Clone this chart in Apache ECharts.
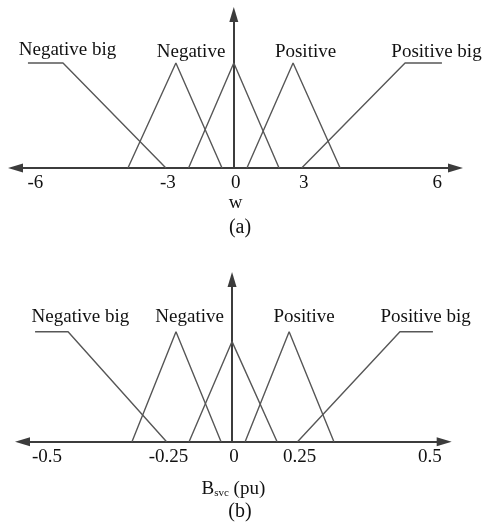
<!DOCTYPE html>
<html>
<head>
<meta charset="utf-8">
<script src="https://cdn.jsdelivr.net/npm/echarts@6/dist/echarts.min.js"></script>
<style>
  html, body { margin: 0; padding: 0; background: #fff; }
  #chart { width: 483px; height: 527px; }
</style>
</head>
<body>
<div id="chart"></div>
<script>
// Fuzzy membership functions: (a) input w, (b) output B_svc (pu)

// (a) input w: breakpoints [x, membership]
const wNegBig  = [[-9.1, 1], [-7.55, 1], [-3, 0]];
const wNeg     = [[-4.68, 0], [-2.56, 1], [-0.52, 0]];
const wZero    = [[-2.0, 0], [0, 1], [2.0, 0]];
const wPos     = [[0.58, 0], [2.62, 1], [4.7, 0]];
const wPosBig  = [[3, 0], [7.57, 1], [9.2, 1]];
const wTickValues = [-8.86, -3, 0, 3, 8.9];
const wTickText   = ['-6', '-3', '0', '3', '6'];

// (b) output B_svc: breakpoints [x, membership]
const bNegBig  = [[-0.752, 1], [-0.626, 1], [-0.25, 0]];
const bNeg     = [[-0.382, 0], [-0.214, 1], [-0.042, 0]];
const bZero    = [[-0.164, 0], [0, 0.91], [0.172, 0]];
const bPos     = [[0.05, 0], [0.218, 1], [0.389, 0]];
const bPosBig  = [[0.25, 0], [0.641, 1], [0.767, 1]];
const bTickValues = [-0.714, -0.25, 0, 0.25, 0.748];
const bTickText   = ['-0.5', '-0.25', '0', '0.25', '0.5'];

const setNames = ['Negative big', 'Negative', '', 'Positive', 'Positive big'];

const FONT = "'Liberation Serif', 'Times New Roman', serif";
const LINE = '#575757';
const AXIS = '#3c3c3c';

function makeXAxis(gridIndex, min, max, values, texts, name, nameGap) {
  return {
    type: 'value', gridIndex, min, max,
    splitLine: { show: false },
    axisTick: { show: false },
    axisLine: {
      show: true, onZero: true,
      symbol: ['triangle', 'triangle'], symbolSize: [9, 15],
      lineStyle: { color: AXIS, width: 2 }
    },
    axisLabel: {
      customValues: values,
      formatter: v => texts[values.indexOf(v)],
      fontFamily: FONT, fontSize: 19, color: '#111',
      margin: 6, padding: [0, 0, 0, 4],
      showMinLabel: true, showMaxLabel: true
    },
    name, nameLocation: 'middle', nameGap,
    nameTextStyle: {
      fontFamily: FONT, fontSize: 19, color: '#111',
      rich: {
        m: { fontFamily: FONT, fontSize: 19, color: '#111' },
        s: { fontFamily: FONT, fontSize: 11, color: '#111', verticalAlign: 'bottom', padding: [8, 0, 0, 0] }
      }
    }
  };
}

function makeYAxis(gridIndex, max) {
  return {
    type: 'value', gridIndex, min: 0, max,
    splitLine: { show: false },
    axisTick: { show: false },
    axisLabel: { show: false },
    axisLine: {
      show: true, onZero: true,
      symbol: ['none', 'triangle'], symbolSize: [9, 15],
      lineStyle: { color: AXIS, width: 2 }
    }
  };
}

function makeSeries(idx, sets, labelAt) {
  return sets.map((d, i) => {
    const s = {
      type: 'line', xAxisIndex: idx, yAxisIndex: idx,
      data: d, symbol: 'none', silent: true, animation: false,
      lineStyle: { color: LINE, width: 1.4 }
    };
    if (setNames[i]) {
      s.markPoint = {
        silent: true, animation: false,
        symbol: 'circle', symbolSize: 1,
        itemStyle: { color: 'rgba(0,0,0,0)' },
        label: {
          show: true, position: 'inside',
          formatter: setNames[i],
          fontFamily: FONT, fontSize: 19, color: '#111'
        },
        data: [{ coord: labelAt[i] }]
      };
    }
    return s;
  });
}

const chart = echarts.init(document.getElementById('chart'), null, { renderer: 'canvas' });

chart.setOption({
  backgroundColor: '#fff',
  animation: false,
  grid: [
    { left: 15.5, top: 14.5, width: 440, height: 153.5 },
    { left: 22.5, top: 279.5, width: 421.7, height: 162.2 }
  ],
  xAxis: [
    makeXAxis(0, -9.65, 9.8, wTickValues, wTickText, 'w', 26),
    makeXAxis(1, -0.8, 0.81, bTickValues, bTickText, '{m|B}{s|svc}{m| (pu)}', 38)
  ],
  yAxis: [makeYAxis(0, 1.462), makeYAxis(1, 1.4745)],
  series: [
    ...makeSeries(0, [wNegBig, wNeg, wZero, wPos, wPosBig],
      [[-7.35, 1.124], [-1.89, 1.105], null, [3.17, 1.105], [8.96, 1.105]]),
    ...makeSeries(1, [bNegBig, bNeg, bZero, bPos, bPosBig],
      [[-0.579, 1.134], [-0.162, 1.134], null, [0.275, 1.134], [0.739, 1.134]])
  ],
  graphic: [
    { type: 'text', silent: true, x: 240, y: 228,
      style: { text: '(a)', fontFamily: FONT, fontSize: 20, fill: '#111', textAlign: 'center', textVerticalAlign: 'middle' } },
    { type: 'text', silent: true, x: 240, y: 512,
      style: { text: '(b)', fontFamily: FONT, fontSize: 20, fill: '#111', textAlign: 'center', textVerticalAlign: 'middle' } }
  ]
});
</script>
</body>
</html>
